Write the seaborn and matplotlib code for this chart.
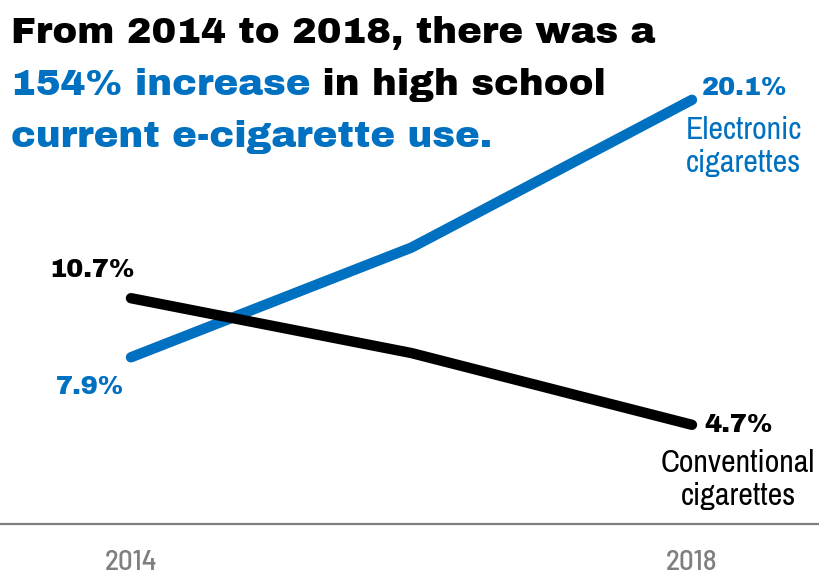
import matplotlib
matplotlib.use("Agg")
import matplotlib.pyplot as plt
import seaborn as sns
import pandas as pd
from matplotlib import font_manager

years = [2014, 2016, 2018]
ecig = [7.9, 13.1, 20.1]
conv = [10.7, 8.1, 4.7]
series_names = ["Electronic cigarettes", "Conventional cigarettes"]
tick_years = [2014, 2018]
tick_labels = ["2014", "2018"]

BLUE = "#0070C0"
BLACK = "#000000"
GRAY = "#7F7F7F"

sns.set_theme(style="white")
avail = {f.name for f in font_manager.fontManager.ttflist}
def pick(*names):
    for n in names:
        if n in avail:
            return [n, "DejaVu Sans"]
    return ["DejaVu Sans"]
HEAVY = pick("Archivo Black")
NARROW = pick("Archivo Narrow", "Roboto Condensed")
COND = pick("Barlow Semi Condensed", "Roboto Condensed")
plt.rcParams["font.family"] = ["DejaVu Sans"]

df = pd.DataFrame({
    "year": years * 2,
    "value": ecig + conv,
    "series": [series_names[0]] * 3 + [series_names[1]] * 3,
})

W, H = 820, 577
fig = plt.figure(figsize=(W / 100, H / 100), dpi=100)
ax = fig.add_axes([0, 53 / H, 1, 524 / H])
sns.lineplot(data=df, x="year", y="value", hue="series",
             palette={series_names[0]: BLUE, series_names[1]: BLACK},
             linewidth=7.5, solid_capstyle="round", legend=False, ax=ax)
ax.set_xlim(2013.066, 2018.913)
ax.set_ylim(0, 24.83)
ax.set_xlabel("")
ax.set_ylabel("")
ax.set_yticks([])
ax.set_xticks(tick_years)
ax.set_xticklabels(tick_labels, color=GRAY, fontsize=21, family=COND,
                   fontweight="medium")
ax.tick_params(axis="x", length=0, pad=19)
for s in ["top", "left", "right"]:
    ax.spines[s].set_visible(False)
ax.spines["bottom"].set_color(GRAY)
ax.spines["bottom"].set_linewidth(1.6)

def vlabel(x, y, s, col):
    ax.text(x, y, s, ha="center", va="center", fontsize=18.5,
            family=HEAVY, color=col)

vlabel(2013.72, 10.7 + 1.34, "10.7%", BLACK)
vlabel(2013.71, 7.9 - 1.41, "7.9%", BLUE)
vlabel(2018.378, 20.1 + 0.56, "20.1%", BLUE)
vlabel(2018.33, 4.7 - 0.01, "4.7%", BLACK)
ax.text(2018.37, 20.1 - 2.2, "Electronic\ncigarettes", ha="center", va="center",
        fontsize=23, color=BLUE, family=NARROW, linespacing=1.2)
ax.text(2018.33, 4.7 - 2.6, "Conventional\ncigarettes", ha="center", va="center",
        fontsize=23, color=BLACK, family=NARROW, linespacing=1.2)

# title with mixed colors
fig.canvas.draw()
renderer = fig.canvas.get_renderer()
title_lines = [
    [("From 2014 to 2018, there was a", BLACK)],
    [("154% increase", BLUE), (" in high school", BLACK)],
    [("current e-cigarette use.", BLUE)],
]
probe = fig.text(0, 0, title_lines[0][0][0], fontsize=24, family=HEAVY)
pw = probe.get_window_extent(renderer).width
probe.remove()
tsize = 24 * 645 / pw
line_y = [33, 85, 137]
for parts, yp in zip(title_lines, line_y):
    x = 11
    for txt, col in parts:
        t = fig.text(x / W, 1 - yp / H, txt, color=col, fontsize=tsize,
                     family=HEAVY, ha="left", va="center")
        bb = t.get_window_extent(renderer)
        x += bb.width

fig.savefig("out.png", dpi=100)
